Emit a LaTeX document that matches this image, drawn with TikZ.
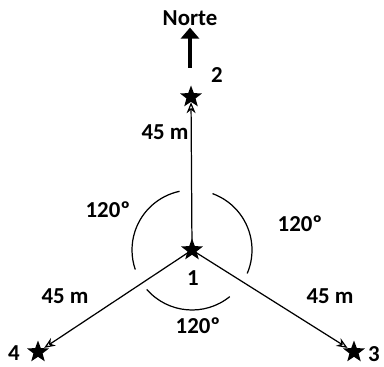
\documentclass[tikz,border=0pt]{standalone}
\usepackage{fontspec}
\setmainfont{Carlito}
\usepackage{tikz}
\usetikzlibrary{positioning,arrows.meta,shapes.geometric}

\begin{document}
\begin{tikzpicture}[
  x=0.02cm, y=0.02cm,
  font=\fontsize{13}{15}\selectfont\bfseries,
  station/.style={star, star points=5, star point ratio=2.4, fill=black,
    inner sep=0pt, minimum size=0.46cm},
  lbl/.style={inner sep=1pt},
  ar/.style={-{Stealth[length=2.2mm, width=1.8mm, open]}, line width=0.7pt},
  north/.style={-{Triangle[length=2.2mm, width=3.6mm]}, line width=2.4pt},
  sect/.style={line width=0.7pt}
]
  \useasboundingbox (0,0) rectangle (384,367);
  % stations
  \node[station] (s1) at (192, 117) {};
  \node[station] (s2) at (191, 270) {};
  \node[station] (s3) at (354, 15) {};
  \node[station] (s4) at (38, 15) {};
  \node[lbl] (n1) at (193, 89) {1};
  \node[lbl] (n2) at (217, 292) {2};
  \node[lbl] (n3) at (374, 13) {3};
  \node[lbl] (n4) at (14, 14) {4};
  % north
  \node[lbl] (norte) at (190, 349) {Norte};
  \coordinate (nbase) at (190, 299);
  \draw[north] (nbase) -- (norte.south);
  % distances and angles
  \node[lbl] (d2) at (165, 235) {45 m};
  \node[lbl] (d4) at (65, 71) {45 m};
  \node[lbl] (d3) at (330, 71) {45 m};
  \node[lbl] (a1) at (108, 157) {120º};
  \node[lbl] (a2) at (300, 143) {120º};
  \node[lbl] (a3) at (198, 41) {120º};
  \draw[ar] (s1.center) -- (s2);
  \draw[ar] (s1.center) -- (s3);
  \draw[ar] (s1.center) -- (s4);
  \draw[sect] (s1.center) ++(102:60) arc[start angle=102, end angle=199, radius=60];
  \draw[sect] (s1.center) ++(-23:60) arc[start angle=-23, end angle=70, radius=60];
  \draw[sect] (s1.center) ++(221:60) arc[start angle=221, end angle=309, radius=60];
\end{tikzpicture}
\end{document}
